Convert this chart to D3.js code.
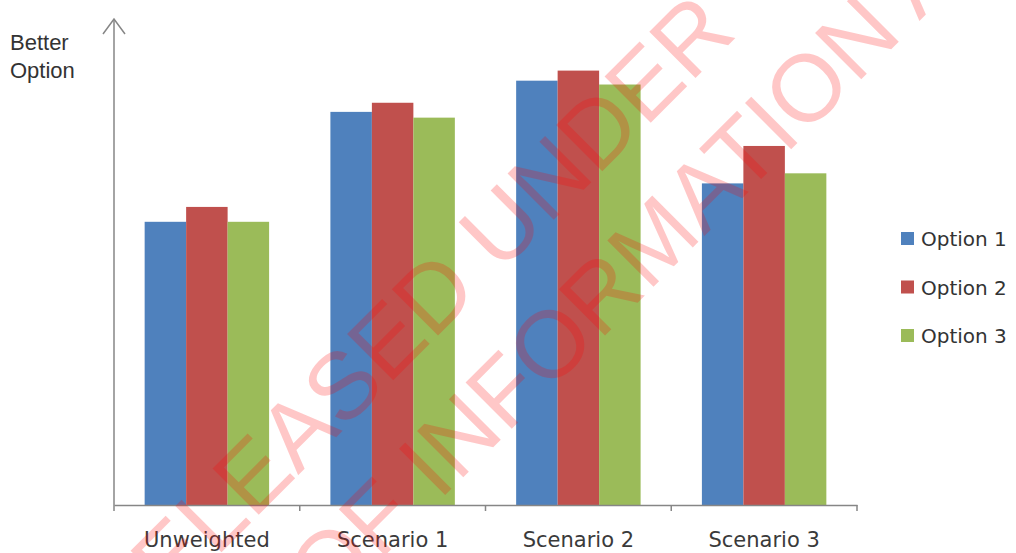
<!DOCTYPE html>
<html>
<head>
<meta charset="utf-8">
<script src="https://cdn.jsdelivr.net/npm/d3@7"></script>
<style>
    body { margin: 0; background: #fff; }
    svg { display: block; }
</style>
</head>
<body>
<svg id="chart" width="1016" height="553"></svg>
<script>
const categories = ["Unweighted", "Scenario 1", "Scenario 2", "Scenario 3"];
const seriesNames = ["Option 1", "Option 2", "Option 3"];
const option1 = [59.0, 81.9, 88.4, 67.0];
const option2 = [62.1, 83.8, 90.5, 74.8];
const option3 = [59.0, 80.7, 87.6, 69.1];
const seriesColors = ["#4F81BD", "#C0504D", "#9BBB59"];
const yLabelLines = ["Better", "Option"];
const watermarkLines = ["RELEASED UNDER THE FREEDOM", "OF INFORMATION ACT 1982"];

const allSeries = [option1, option2, option3];

const svg = d3.select("#chart");
const axisColor = "#868686";

// scales
const x0 = d3.scaleBand()
    .domain(categories)
    .range([114, 857])
    .paddingInner(0.33)
    .paddingOuter(0.165);

const x1 = d3.scaleBand()
    .domain(seriesNames)
    .range([0, x0.bandwidth()]);

const y = d3.scaleLinear()
    .domain([0, 100])
    .range([505, 25]);

// bars
const groups = svg.append("g")
    .selectAll("g")
    .data(categories)
    .join("g")
    .attr("transform", d => `translate(${x0(d)},0)`);

groups.selectAll("rect")
    .data((d, i) => seriesNames.map((s, j) => ({ series: s, value: allSeries[j][i], color: seriesColors[j] })))
    .join("rect")
    .attr("x", d => x1(d.series))
    .attr("y", d => y(d.value))
    .attr("width", x1.bandwidth())
    .attr("height", d => y(0) - y(d.value))
    .attr("fill", d => d.color);

// x axis with ticks between the categories
const xAxis = d3.axisBottom(x0).tickSize(0).tickPadding(0).tickFormat("");
const gx = svg.append("g")
    .attr("transform", `translate(0,${y(0)})`)
    .call(xAxis);
gx.select(".domain").attr("stroke", axisColor).attr("stroke-width", 1.5);

const step = x0.step();
const dividers = d3.range(categories.length + 1).map(i => 114 + i * step);
gx.selectAll(".divider")
    .data(dividers)
    .join("line")
    .attr("class", "divider")
    .attr("x1", d => d).attr("x2", d => d)
    .attr("y1", 0).attr("y2", 6)
    .attr("stroke", axisColor)
    .attr("stroke-width", 1.5);

gx.selectAll(".cat-label")
    .data(categories)
    .join("text")
    .attr("class", "cat-label")
    .attr("x", d => x0(d) + x0.bandwidth() / 2)
    .attr("y", 42)
    .attr("text-anchor", "middle")
    .attr("font-family", "'DejaVu Sans', sans-serif")
    .attr("font-size", 21)
    .attr("fill", "#3a3a3a")
    .text(d => d);

// y axis drawn as a plain arrow, no ticks
const yTop = 19;
svg.append("line")
    .attr("x1", 114).attr("x2", 114)
    .attr("y1", y(0)).attr("y2", yTop)
    .attr("stroke", axisColor)
    .attr("stroke-width", 1.5);
svg.append("path")
    .attr("d", `M103,34 L114,${yTop} L125,34`)
    .attr("fill", "none")
    .attr("stroke", axisColor)
    .attr("stroke-width", 1.5);

svg.append("g")
    .selectAll("text")
    .data(yLabelLines)
    .join("text")
    .attr("x", 10)
    .attr("y", (d, i) => 50 + i * 28)
    .attr("font-family", "'Liberation Sans', Arial, sans-serif")
    .attr("font-size", 22)
    .attr("fill", "#333")
    .text(d => d);

// legend
const legend = svg.append("g")
    .selectAll("g")
    .data(seriesNames)
    .join("g")
    .attr("transform", (d, i) => `translate(901,${239 + i * 48.5})`);

legend.append("rect")
    .attr("x", 0).attr("y", -7)
    .attr("width", 13).attr("height", 13)
    .attr("fill", (d, i) => seriesColors[i]);

legend.append("text")
    .attr("x", 20)
    .attr("y", 7)
    .attr("font-family", "'DejaVu Sans', sans-serif")
    .attr("font-size", 20)
    .attr("fill", "#333")
    .text(d => d);

// watermark, rotated -45deg; u runs along the text, v across it
const wm = svg.append("g")
    .attr("transform", "rotate(-45)")
    .attr("pointer-events", "none");

// [baseline v, index of a reference letter, where that letter's centre should sit]
const wmPlace = [[547, 7, 99], [665, 6, 146]];

watermarkLines.forEach((line, k) => {
    const t = wm.append("text")
        .attr("x", 0)
        .attr("y", wmPlace[k][0])
        .attr("font-family", "'Liberation Sans', Arial, sans-serif")
        .attr("font-size", 95)
        .attr("fill", "#FF0000")
        .attr("fill-opacity", 0.22)
        .text(line);
    const node = t.node();
    const idx = wmPlace[k][1];
    const centre = node.getSubStringLength(0, idx) + node.getSubStringLength(idx, 1) / 2;
    t.attr("x", wmPlace[k][2] - centre);
});
</script>
</body>
</html>
